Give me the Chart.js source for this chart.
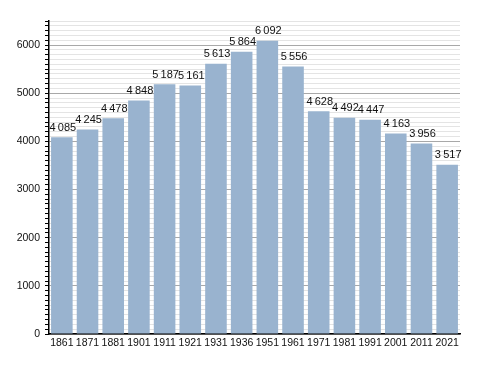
<!DOCTYPE html>
<html>
<head>
<meta charset="utf-8">
<script src="https://cdn.jsdelivr.net/npm/chart.js@4"></script>
<style>
  html, body { margin: 0; padding: 0; background: #fff; }
  canvas { display: block; }
</style>
</head>
<body>
<canvas id="graphCanvas" width="488" height="373"></canvas>
<script>
// population by census year
var annees = ['1861', '1871', '1881', '1901', '1911', '1921', '1931', '1936',
  '1951', '1961', '1971', '1981', '1991', '2001', '2011', '2021'];
var population = [4085, 4245, 4478, 4848, 5187, 5161, 5613, 5864,
  6092, 5556, 4628, 4492, 4447, 4163, 3956, 3517];
var yMax = 6500;
var yStep = 100;
var yMajor = 1000;

var police = '"Liberation Sans", Arial, sans-serif';

function formatNombre(n) {
  return String(n).replace(/(\d)(?=(\d\d\d)+(?!\d))/g, "$1\u2009");
}

// value labels above each bar
var etiquettes = {
  id: 'etiquettes',
  afterDatasetsDraw: function (chart) {
    var ctx = chart.ctx;
    var meta = chart.getDatasetMeta(0);
    ctx.save();
    ctx.font = '11px ' + police;
    ctx.fillStyle = '#111';
    ctx.textAlign = 'center';
    ctx.textBaseline = 'bottom';
    meta.data.forEach(function (bar, i) {
      ctx.fillText(formatNombre(population[i]), bar.x + 1, bar.y - 4);
    });
    ctx.restore();
  }
};

var chartdata = {
  labels: annees,
  datasets: [{
    data: population,
    backgroundColor: '#99b3cf',
    borderWidth: 0,
    barPercentage: 0.84,
    categoryPercentage: 1.0
  }]
};

new Chart(document.getElementById('graphCanvas'), {
  type: 'bar',
  data: chartdata,
  plugins: [etiquettes],
  options: {
    responsive: false,
    animation: false,
    layout: { padding: { top: 21, right: 28, left: 0, bottom: 0 } },
    plugins: {
      legend: { display: false },
      tooltip: { enabled: false }
    },
    scales: {
      x: {
        grid: { display: false, drawTicks: false },
        border: { display: true, color: '#000', width: 1.5 },
        ticks: {
          color: '#111',
          padding: 3,
          maxRotation: 0,
          autoSkip: false,
          font: { family: police, size: 10.5 }
        },
        afterFit: function (scale) { scale.height = 39; }
      },
      y: {
        min: 0,
        max: yMax,
        border: { display: true, color: '#000', width: 1.5 },
        grid: {
          color: function (c) {
            return c.tick && c.tick.value % yMajor === 0 ? '#a8a8a8' : '#e4e4e4';
          },
          tickColor: '#000',
          tickLength: 4,
          drawTicks: true
        },
        ticks: {
          stepSize: yStep,
          maxTicksLimit: 100,
          autoSkip: false,
          color: '#111',
          padding: 5,
          font: { family: police, size: 10.5 },
          callback: function (v) { return v % yMajor === 0 ? String(v) : ''; }
        },
        afterFit: function (scale) { scale.width = 49; }
      }
    }
  }
});
</script>
</body>
</html>
